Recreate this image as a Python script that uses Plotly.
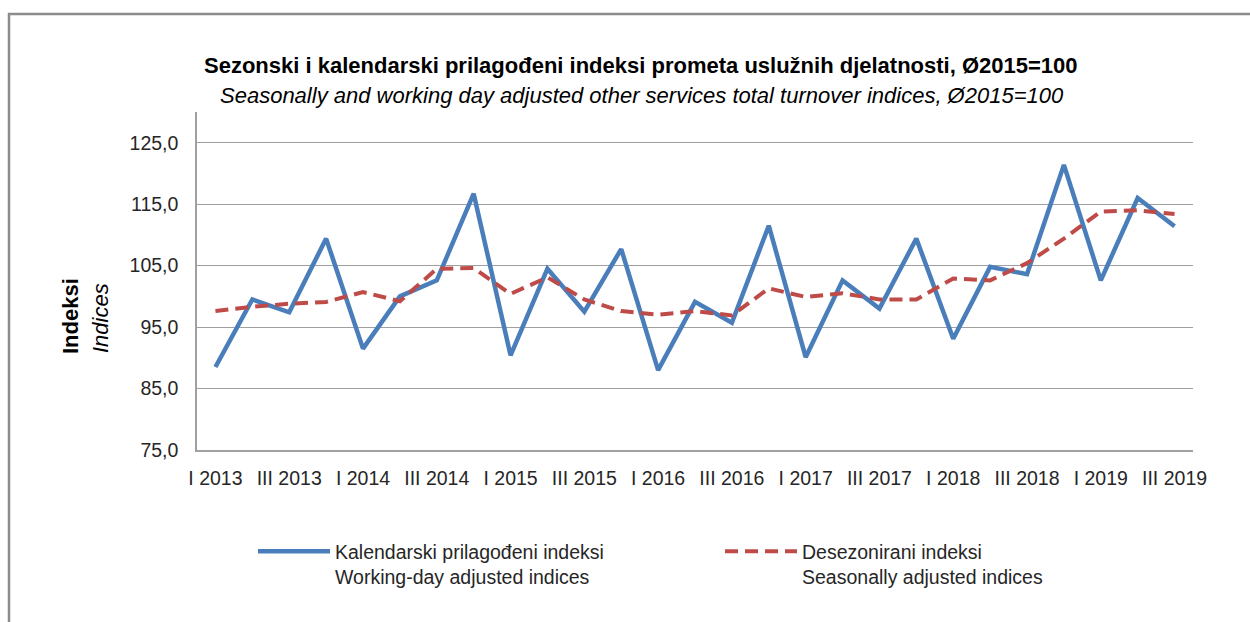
import plotly.graph_objects as go

years = [2013, 2014, 2015, 2016, 2017, 2018, 2019]
quarters = ["I", "II", "III", "IV"]
categories = [f"{q} {y}" for y in years for q in quarters][:27]

working_day = [88.5, 99.5, 97.4, 109.4, 91.5, 100.0, 102.6, 116.7,
               90.4, 104.5, 97.5, 107.7, 88.0, 99.1, 95.7, 111.5,
               90.1, 102.6, 98.0, 109.4, 93.1, 104.8, 103.6, 121.4,
               102.6, 116.0, 111.4]
seasonal = [97.6, 98.3, 98.8, 99.1, 100.7, 99.2, 104.5, 104.6,
            100.4, 103.1, 99.5, 97.6, 97.0, 97.6, 96.9, 101.3,
            99.9, 100.5, 99.5, 99.5, 102.9, 102.6, 105.4, 109.4,
            113.8, 114.0, 113.4]

tick_labels = categories[::2]
y_ticks = [75, 85, 95, 105, 115, 125]
y_tick_text = ["75,0", "85,0", "95,0", "105,0", "115,0", "125,0"]

FONT = "Liberation Sans Narrow, Arial Narrow, Liberation Sans, Arial, sans-serif"
W, H = 1250, 622
L, R, T, B = 197, 57, 112, 172
PW, PH = W - L - R, H - T - B


def px(x):
    return (x - L) / PW


def py(y):
    return (H - B - y) / PH


fig = go.Figure()
fig.add_trace(go.Scatter(
    x=categories, y=working_day, mode="lines",
    name="Kalendarski prilagođeni indeksi<br>Working-day adjusted indices",
    line=dict(color="#4A7EBB", width=4.5),
))
fig.add_trace(go.Scatter(
    x=categories, y=seasonal, mode="lines",
    name="Desezonirani indeksi<br>Seasonally adjusted indices",
    line=dict(color="#BE4B48", width=4, dash="13px,7px"),
))

fig.update_layout(
    width=W, height=H,
    margin=dict(l=L, r=R, t=T, b=B, autoexpand=False),
    paper_bgcolor="white", plot_bgcolor="white",
    font=dict(family=FONT, color="#262626"),
    showlegend=True,
    legend=dict(
        orientation="h", xref="container", yref="container",
        x=253 / W, y=1 - 532 / H, xanchor="left", yanchor="top",
        valign="top", itemwidth=72, entrywidth=380, entrywidthmode="pixels",
        font=dict(family=FONT, size=19.5, color="#262626"),
        bgcolor="rgba(0,0,0,0)", tracegroupgap=0,
    ),
    xaxis=dict(
        type="category", categoryorder="array", categoryarray=categories,
        tickmode="array", tickvals=tick_labels, ticktext=tick_labels,
        showgrid=False, showline=True, linecolor="#A0A0A0", linewidth=1.5,
        ticks="", ticklabelstandoff=10,
        tickfont=dict(family=FONT, size=19.5, color="#262626"),
        range=[-0.5, 26.5],
    ),
    yaxis=dict(
        range=[75, 130], tickmode="array", tickvals=y_ticks, ticktext=y_tick_text,
        showgrid=True, gridcolor="#A0A0A0", gridwidth=1.3,
        showline=True, linecolor="#A0A0A0", linewidth=1.5,
        ticks="", ticklen=0, zeroline=False, ticklabelstandoff=13,
        tickfont=dict(family=FONT, size=19.5, color="#262626"),
    ),
    annotations=[
        dict(text="<b>Sezonski i kalendarski prilagođeni indeksi prometa uslužnih djelatnosti, Ø2015=100</b>",
             xref="paper", yref="paper", x=px(641), y=py(65),
             showarrow=False, font=dict(family=FONT, size=22, color="black"),
             xanchor="center", yanchor="middle"),
        dict(text="<i>Seasonally and working day adjusted other services total turnover indices, Ø2015=100</i>",
             xref="paper", yref="paper", x=px(642), y=py(95),
             showarrow=False, font=dict(family=FONT, size=22, color="black"),
             xanchor="center", yanchor="middle"),
        dict(text="<b>Indeksi</b>", xref="paper", yref="paper",
             x=px(70), y=py(316),
             textangle=-90, showarrow=False, xanchor="center", yanchor="middle",
             font=dict(family=FONT, size=22, color="black")),
        dict(text="<i>Indices</i>", xref="paper", yref="paper",
             x=px(100), y=py(318),
             textangle=-90, showarrow=False, xanchor="center", yanchor="middle",
             font=dict(family=FONT, size=22, color="black")),
    ],
    shapes=[
        dict(type="rect", xref="paper", yref="paper",
             x0=px(9), x1=px(1320), y0=py(14), y1=py(700),
             line=dict(color="#8C8C8C", width=2.5), fillcolor="rgba(0,0,0,0)", layer="below"),
    ],
)

fig.write_html("out.html", config={"displayModeBar": False},
               post_script="document.body.style.margin='0';document.body.style.overflow='hidden';")
